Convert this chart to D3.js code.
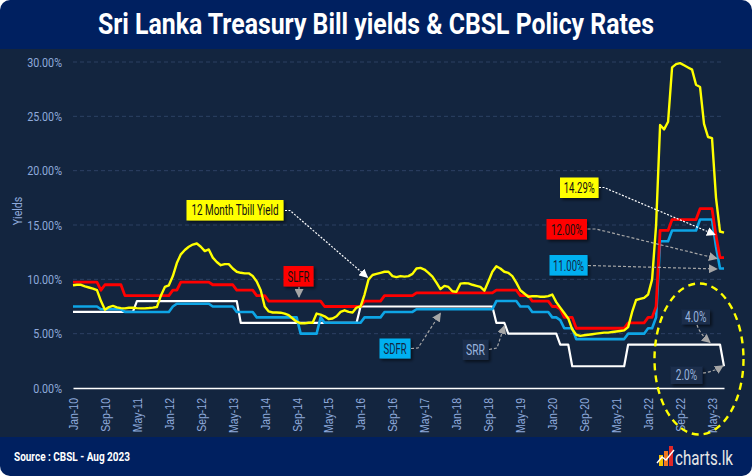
<!DOCTYPE html>
<html><head><meta charset="utf-8">
<script src="https://cdn.jsdelivr.net/npm/d3@7"></script>
<style>
html,body{margin:0;padding:0;background:#fff;}
svg{display:block;font-family:Roboto,"Liberation Sans",sans-serif;}
</style></head>
<body><svg id="c" width="752" height="476"></svg>
<script>
// ---------- DATA ----------
const tickLabels = ["Jan-10","Sep-10","May-11","Jan-12","Sep-12","May-13","Jan-14","Sep-14","May-15","Jan-16","Sep-16","May-17","Jan-18","Sep-18","May-19","Jan-20","Sep-20","May-21","Jan-22","Sep-22","May-23"];
const yTicks = [0,5,10,15,20,25,30];

// 12 Month T-bill yield (%), monthly Jan-10 .. Aug-23
const tbill = [
 9.45,9.5,9.5,9.35,9.25,9.15,9.0,8.0,7.2,7.45,
 7.55,7.42,7.35,7.33,7.38,7.39,7.35,7.33,7.33,7.36,
 7.4,7.45,8.5,9.3,9.45,10.3,11.5,12.3,12.7,13.0,
 13.2,13.3,13.0,12.6,12.75,12.0,11.6,11.3,11.4,11.4,
 11.0,10.7,10.6,10.55,10.55,10.3,9.8,9.0,7.5,7.05,
 6.95,6.95,6.93,6.85,6.7,6.4,6.1,5.95,5.95,6.0,
 6.0,6.85,6.75,6.6,6.35,6.4,6.6,7.0,7.15,7.0,
 6.95,7.4,7.5,8.6,10.0,10.4,10.5,10.6,10.7,10.7,
 10.3,10.2,10.3,10.25,10.3,10.5,11.0,11.05,10.9,10.6,
 10.25,9.7,9.1,9.4,9.3,8.9,8.85,9.6,9.65,9.63,
 9.5,9.4,9.3,8.95,9.8,10.7,11.2,11.0,10.7,10.6,
 10.3,9.7,9.0,8.7,8.4,8.45,8.45,8.4,8.4,8.45,
 8.6,7.9,7.4,6.9,6.4,5.4,4.9,4.8,4.85,4.9,
 4.95,5.0,5.05,5.1,5.1,5.15,5.2,5.25,5.3,5.6,
 7.0,8.1,8.2,8.3,8.6,10.0,15.0,24.2,23.8,24.5,
 29.5,29.8,29.9,29.7,29.5,29.3,27.9,27.7,24.3,23.1,
 23.0,17.5,14.4,14.29];

// Standing Lending Facility Rate (%)
const slfr = [
 9.75,9.75,9.75,9.75,9.75,9.75,9.75,9.0,9.5,9.5,
 9.5,9.5,9.5,8.5,8.5,8.5,8.5,8.5,8.5,8.5,
 8.5,8.5,8.5,8.5,8.5,9.0,9.0,9.75,9.75,9.75,
 9.75,9.75,9.75,9.75,9.75,9.5,9.5,9.5,9.5,9.5,
 9.5,9.0,9.0,9.0,9.0,9.0,8.5,8.5,8.5,8.0,
 8.0,8.0,8.0,8.0,8.0,8.0,8.0,8.0,8.0,8.0,
 8.0,8.0,8.0,7.5,7.5,7.5,7.5,7.5,7.5,7.5,
 7.5,7.5,7.5,8.0,8.0,8.0,8.0,8.0,8.5,8.5,
 8.5,8.5,8.5,8.5,8.5,8.5,8.75,8.75,8.75,8.75,
 8.75,8.75,8.75,8.75,8.75,8.75,8.75,8.75,8.75,8.75,
 8.75,8.75,8.75,8.75,8.75,8.75,9.0,9.0,9.0,9.0,
 9.0,9.0,8.5,8.5,8.5,8.0,8.0,8.0,8.0,8.0,
 7.5,7.5,7.25,6.5,6.5,6.5,5.5,5.5,5.5,5.5,
 5.5,5.5,5.5,5.5,5.5,5.5,5.5,5.5,5.5,6.0,
 6.0,6.0,6.0,6.0,6.5,6.5,7.5,14.5,14.5,14.5,
 15.5,15.5,15.5,15.5,15.5,15.5,15.5,16.5,16.5,16.5,
 16.5,14.0,12.0,12.0];

// Standing Deposit Facility Rate (%)
const sdfr = [
 7.5,7.5,7.5,7.5,7.5,7.5,7.5,7.25,7.25,7.25,
 7.25,7.25,7.25,7.0,7.0,7.0,7.0,7.0,7.0,7.0,
 7.0,7.0,7.0,7.0,7.0,7.5,7.75,7.75,7.75,7.75,
 7.75,7.75,7.75,7.75,7.75,7.5,7.5,7.5,7.5,7.5,
 7.5,7.0,7.0,7.0,7.0,7.0,6.5,6.5,6.5,6.5,
 6.5,6.5,6.5,6.5,6.5,6.5,6.5,5.0,5.0,5.0,
 5.0,5.0,6.5,6.0,6.0,6.0,6.0,6.0,6.0,6.0,
 6.0,6.0,6.0,6.5,6.5,6.5,6.5,6.5,7.0,7.0,
 7.0,7.0,7.0,7.0,7.0,7.0,7.25,7.25,7.25,7.25,
 7.25,7.25,7.25,7.25,7.25,7.25,7.25,7.25,7.25,7.25,
 7.25,7.25,7.25,7.25,7.25,7.25,8.0,8.0,8.0,8.0,
 8.0,8.0,7.5,7.5,7.5,7.0,7.0,7.0,7.0,7.0,
 6.5,6.5,6.25,5.5,5.5,5.5,4.5,4.5,4.5,4.5,
 4.5,4.5,4.5,4.5,4.5,4.5,4.5,4.5,4.5,5.0,
 5.0,5.0,5.0,5.0,5.5,5.5,6.5,13.5,13.5,13.5,
 14.5,14.5,14.5,14.5,14.5,14.5,14.5,15.5,15.5,15.5,
 15.5,13.0,11.0,11.0];

// Statutory Reserve Ratio (%)
const srr = [
 7,7,7,7,7,7,7,7,7,7,
 7,7,7,7,7,7,8,8,8,8,
 8,8,8,8,8,8,8,8,8,8,
 8,8,8,8,8,8,8,8,8,8,
 8,8,6,6,6,6,6,6,6,6,
 6,6,6,6,6,6,6,6,6,6,
 6,6,6,6,6,6,6,6,6,6,
 6,6,7.5,7.5,7.5,7.5,7.5,7.5,7.5,7.5,
 7.5,7.5,7.5,7.5,7.5,7.5,7.5,7.5,7.5,7.5,
 7.5,7.5,7.5,7.5,7.5,7.5,7.5,7.5,7.5,7.5,
 7.5,7.5,7.5,7.5,7.5,7.5,6,6,6,5,
 5,5,5,5,5,5,5,5,5,5,
 5,5,4,4,4,2,2,2,2,2,
 2,2,2,2,2,2,2,2,2,4,
 4,4,4,4,4,4,4,4,4,4,
 4,4,4,4,4,4,4,4,4,4,
 4,4,4,2];

// ---------- SETUP ----------
const svg = d3.select("#c");
const W = 752, H = 476;
const months = d3.timeMonth.range(new Date(2010,0,1), new Date(2023,8,1));
const categories = months.map(d3.timeFormat("%b-%y"));

const x = d3.scalePoint().domain(categories).range([73, 724]);
const y = d3.scaleLinear().domain([0,30]).range([388, 62]);

const defs = svg.append("defs");
const sh = defs.append("filter").attr("id","sh").attr("x","-20%").attr("y","-20%").attr("width","150%").attr("height","160%");
sh.append("feDropShadow").attr("dx",2).attr("dy",2).attr("stdDeviation",1.5).attr("flood-color","#000").attr("flood-opacity",0.55);
function marker(id, color){
  defs.append("marker").attr("id",id).attr("viewBox","0 0 10 10").attr("refX",9).attr("refY",5)
    .attr("markerWidth",9).attr("markerHeight",9).attr("markerUnits","userSpaceOnUse").attr("orient","auto")
    .append("path").attr("d","M0,0 L10,5 L0,10 z").attr("fill",color);
}
marker("mw","#ffffff"); marker("mg","#a6a6a6");

// backgrounds
svg.append("rect").attr("x",0).attr("y",0).attr("width",W).attr("height",H).attr("rx",10).attr("fill","#002060");
svg.append("rect").attr("x",0).attr("y",49).attr("width",W).attr("height",388).attr("fill","#13253f");

// title
svg.append("text").attr("x",376).attr("y",34).attr("text-anchor","middle")
  .attr("font-size",29).attr("font-weight","bold").attr("fill","#fff")
  .attr("textLength",556).attr("lengthAdjust","spacingAndGlyphs")
  .text("Sri Lanka Treasury Bill yields & CBSL Policy Rates");

// gridlines
const plot = svg.append("g");
plot.selectAll("line.grid").data(yTicks.filter(d=>d>0)).join("line")
  .attr("x1",73).attr("x2",724).attr("y1",d=>y(d)).attr("y2",d=>y(d))
  .attr("stroke","#2c4163").attr("stroke-width",1).attr("stroke-dasharray","4,3");

// y axis
const labCol = "#8faadc";
const yAx = svg.append("g").attr("transform","translate(73,0)")
  .call(d3.axisLeft(y).tickValues(yTicks).tickFormat(d=>d.toFixed(2)+"%").tickSize(0));
yAx.select(".domain").remove();
yAx.selectAll("text").attr("x",null).attr("fill",labCol).attr("font-size",12.5)
  .attr("font-family","Roboto,sans-serif")
  .attr("transform","translate(-11,0) scale(0.86,1)");

svg.append("text").attr("transform","translate(22,211) rotate(-90) scale(0.85,1)")
  .attr("text-anchor","middle").attr("fill",labCol).attr("font-size",12.5).text("Yields");

// x axis
const xAx = svg.append("g").attr("transform","translate(0,388)")
  .call(d3.axisBottom(x).tickValues(tickLabels).tickSize(0));
xAx.select(".domain").attr("stroke","#ffffff").attr("stroke-width",1.5);
xAx.selectAll("text").attr("y",null).attr("dy","0.35em").attr("fill",labCol).attr("font-size",12.5)
  .attr("text-anchor","end").attr("transform","translate(0,10) rotate(-90) scale(0.84,1)");

// lines
const line = arr => d3.line().x((d,i)=>x(categories[i])).y(d=>y(d))(arr);
const series = [
  {v:srr, c:"#ffffff", w:2.2},
  {v:sdfr, c:"#0ea5e6", w:2.6},
  {v:slfr, c:"#ff0000", w:2.8},
  {v:tbill, c:"#ffff00", w:2.4}
];
plot.selectAll("path.s").data(series).join("path")
  .attr("d",d=>line(d.v)).attr("fill","none").attr("stroke",d=>d.c).attr("stroke-width",d=>d.w)
  .attr("stroke-linejoin","round");

// ---------- annotations ----------
const ann = svg.append("g");
function box(bx,by,bw,bh,fill,txt,tc,fs,tl,shadow=true){
  ann.append("rect").attr("x",bx).attr("y",by).attr("width",bw).attr("height",bh).attr("fill",fill)
    .attr("filter",shadow?"url(#sh)":null);
  ann.append("text").attr("x",bx+bw/2).attr("y",by+bh/2).attr("dy","0.36em").attr("text-anchor","middle")
    .attr("font-size",fs).attr("fill",tc).attr("textLength",tl).attr("lengthAdjust","spacingAndGlyphs").text(txt);
}
function arrow(d,col,mk,dash="3,2"){
  ann.append("path").attr("d",d).attr("fill","none").attr("stroke",col).attr("stroke-width",1.2)
    .attr("stroke-dasharray",dash).attr("marker-end",`url(#${mk})`);
}
const last = categories.length-1;
const xi = i => x(categories[i]);

// 12 Month Tbill Yield
box(186.5,200,97,20.5,"#ffff00","12 Month Tbill Yield","#111",14.5,87);
arrow(`M285,210.5 L290,210.5 L${xi(74)-1},${y(tbill[74])-2}`,"#ffffff","mw","2,1.5");
// SLFR
box(283.5,266,30,20.5,"#ff0000","SLFR","#111",15,22);
arrow(`M299,287 L299,${y(slfr[57])-4}`,"#a6a6a6","mg","none");
// SDFR
box(379.5,338.5,31,20,"#00b0f0","SDFR","#13253f",15,23);
arrow(`M411,348.5 L418,348 L${xi(92)},${y(sdfr[92])+4}`,"#a6a6a6","mg");
// SRR
box(462.5,339.5,26,20.5,"#1b2d4c","SRR","#9ab4de",15,19);
arrow(`M489,349.5 L497,348 L${xi(108)},${y(srr[108])+3}`,"#a6a6a6","mg");
// 14.29%
box(560,177.5,38.5,20.5,"#ffff00","14.29%","#111",15,31);
arrow(`M599,187.5 L604,187.5 L${xi(last)-9},${y(tbill[last])+2}`,"#ffffff","mw","2,1.5");
// 12.00%
box(546.5,219,40.5,20.5,"#ff0000","12.00%","#111",15,31.5);
arrow(`M587.5,229 L596,229 L${xi(last)-7},${y(slfr[last])+1}`,"#a6a6a6","mg");
// 11.00%
box(549.5,255,38,20.5,"#00b0f0","11.00%","#13253f",15,31);
arrow(`M588,265.5 L${xi(last)-7},${y(sdfr[last])+0.5}`,"#a6a6a6","mg");
// 4.0%
box(681.5,309.5,28.5,15,"#1b2d4c","4.0%","#9ab4de",14,21.5);
arrow(`M697,325 Q700,334 ${xi(last-4)+2},${y(4)-2}`,"#a6a6a6","mg");
// 2.0%
box(670.5,366.5,32,17.5,"#1b2d4c","2.0%","#9ab4de",14,21.5);
arrow(`M703,373 Q713,372 ${xi(last)-1},${y(2)-0.5}`,"#a6a6a6","mg");

// dashed ellipse
ann.append("ellipse").attr("cx",699).attr("cy",359).attr("rx",44.5).attr("ry",75.5)
  .attr("fill","none").attr("stroke","#ffff00").attr("stroke-width",2.4).attr("stroke-dasharray","7,5");

// ---------- footer ----------
svg.append("text").attr("x",14).attr("y",461).attr("font-size",12.5).attr("font-weight","bold")
  .attr("fill","#fff").attr("textLength",116).attr("lengthAdjust","spacingAndGlyphs").text("Source : CBSL - Aug 2023");
const logo = svg.append("g");
logo.append("rect").attr("x",659).attr("y",455).attr("width",4).attr("height",11).attr("fill","#f5c400");
logo.append("rect").attr("x",664).attr("y",451).attr("width",4).attr("height",15).attr("fill","#f07820");
logo.append("rect").attr("x",669).attr("y",446).attr("width",4).attr("height",20).attr("fill","#e02828");
logo.append("path").attr("d","M657,463 L662,457 L666,460 L674,450").attr("fill","none").attr("stroke","#fff").attr("stroke-width",1.4);
svg.append("text").attr("x",675).attr("y",465).attr("font-size",20).attr("fill","#e6e6e6")
  .attr("textLength",58).attr("lengthAdjust","spacingAndGlyphs").text("charts.lk");
</script></body></html>
